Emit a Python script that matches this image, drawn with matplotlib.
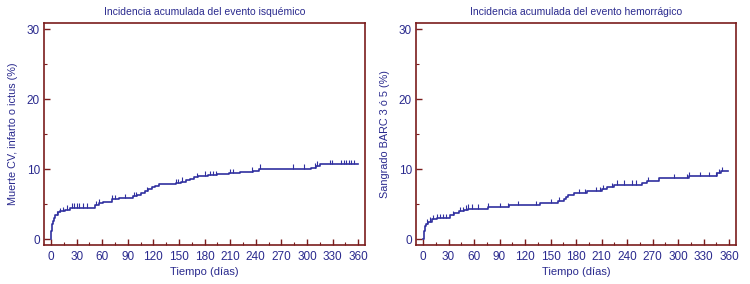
import numpy as np
import matplotlib
matplotlib.use("Agg")
import matplotlib.pyplot as plt
from matplotlib.ticker import MultipleLocator

plt.rcParams['font.family'] = ['Liberation Sans', 'DejaVu Sans']

# Ischemic event: cumulative incidence (%) step curve
isq_t = [0, 0.5, 1, 2, 3, 5, 8, 11, 16, 22, 52, 56, 61, 72, 80, 96, 101, 106, 110, 114,
         118, 122, 127, 132, 147, 152, 158, 163, 167, 172, 177, 184, 195, 208, 215, 222,
         237, 244, 305, 310, 315, 360]
isq_v = [0, 1.2, 2.2, 2.6, 3.0, 3.4, 3.8, 4.0, 4.2, 4.5, 4.85, 5.1, 5.3, 5.7, 5.85, 6.1,
         6.3, 6.6, 6.8, 7.1, 7.4, 7.6, 7.8, 7.85, 8.0, 8.2, 8.4, 8.6, 8.8, 8.95, 9.05, 9.1,
         9.3, 9.4, 9.5, 9.6, 9.75, 10.05, 10.2, 10.45, 10.7, 10.7]
isq_cens = [7, 10, 14, 19, 24, 27, 30, 33, 38, 42, 53, 56, 72, 75, 87, 97, 100, 112, 147,
            149, 154, 171, 181, 186, 190, 193, 210, 213, 235, 245, 284, 296, 309, 312,
            327, 329, 340, 343, 346, 349, 352, 355]

# Hemorrhagic event
hem_t = [0, 1, 2, 4, 6, 10, 16, 32, 36, 42, 48, 53, 76, 101, 137, 159, 166, 168, 170,
         178, 193, 210, 216, 224, 257, 263, 278, 313, 346, 350, 358]
hem_v = [0, 1.2, 1.9, 2.2, 2.5, 2.8, 3.0, 3.4, 3.7, 4.0, 4.2, 4.35, 4.55, 4.8, 5.1, 5.4,
         5.7, 6.0, 6.3, 6.55, 6.8, 7.1, 7.4, 7.75, 8.0, 8.25, 8.7, 9.0, 9.4, 9.7, 9.7]
hem_cens = [5, 8, 12, 17, 20, 24, 27, 35, 44, 47, 50, 53, 58, 65, 76, 90, 100, 112, 133,
            150, 160, 183, 190, 203, 208, 212, 222, 228, 236, 246, 250, 264, 295, 310,
            313, 326, 336, 345, 348, 352]

titles = ["Incidencia acumulada del evento isquémico",
          "Incidencia acumulada del evento hemorrágico"]
ylabels = ["Muerte CV, infarto o ictus (%)", "Sangrado BARC 3 ó 5 (%)"]

TXT = "#2a2a8e"
LINE = "#3030a0"
SPINE = "#7a1c1c"

fig = plt.figure(figsize=(7.5, 2.84), dpi=100)
ax1 = fig.add_axes([0.0587, 0.137, 0.428, 0.782])
ax2 = fig.add_axes([0.5547, 0.137, 0.4267, 0.782])

for ax, t, v, cens, title, ylab in [(ax1, isq_t, isq_v, isq_cens, titles[0], ylabels[0]),
                                     (ax2, hem_t, hem_v, hem_cens, titles[1], ylabels[1])]:
    ax.step(t, v, where='post', color=LINE, lw=1.2)
    # censoring marks
    t_arr = np.array(t)
    v_arr = np.array(v)
    idx = np.searchsorted(t_arr, cens, side='right') - 1
    cy = v_arr[idx]
    ax.vlines(cens, cy, cy + 0.65, color=LINE, lw=0.8)

    ax.set_xlim(-8.2, 368)
    ax.set_ylim(-0.86, 30.86)
    ax.xaxis.set_major_locator(MultipleLocator(30))
    ax.xaxis.set_minor_locator(MultipleLocator(15))
    ax.yaxis.set_major_locator(MultipleLocator(10))
    ax.yaxis.set_minor_locator(MultipleLocator(5))
    ax.tick_params(which='both', direction='in', color=SPINE, labelcolor=TXT,
                   labelsize=8.5, top=False, right=False)
    ax.tick_params(which='major', length=4.5, width=1.0)
    ax.tick_params(axis='x', which='major', pad=4)
    ax.tick_params(axis='y', which='major', pad=3)
    ax.tick_params(which='minor', length=2.5, width=0.8)
    for s in ax.spines.values():
        s.set_color(SPINE)
        s.set_linewidth(1.2)
    ax.set_title(title, color=TXT, fontsize=7.5, pad=6)
    ax.set_xlabel("Tiempo (días)", color=TXT, fontsize=8, labelpad=3)
    ax.set_ylabel(ylab, color=TXT, fontsize=7.8, labelpad=6)

fig.savefig("out.png", dpi=100)
